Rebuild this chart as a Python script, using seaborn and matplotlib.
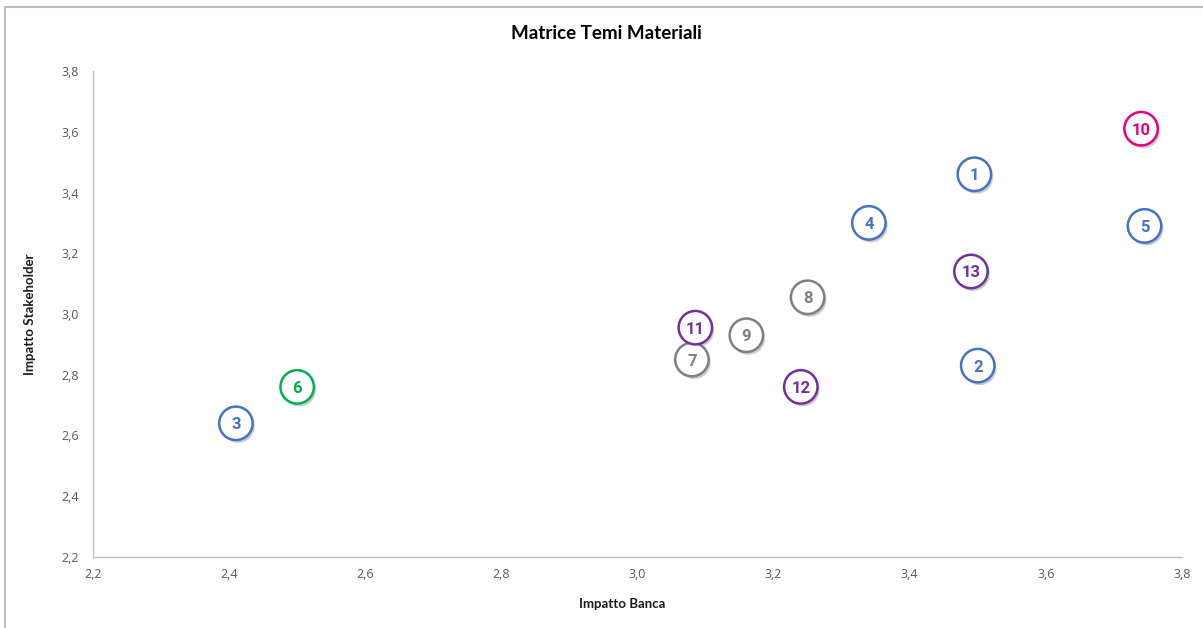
import matplotlib
matplotlib.use("Agg")
import matplotlib.pyplot as plt
import matplotlib.patheffects as pe
from matplotlib.lines import Line2D
from matplotlib.ticker import FuncFormatter, MultipleLocator
import pandas as pd
import seaborn as sns

# Material topics: id, bank impact (x), stakeholder impact (y), group
topic_ids = ["1", "2", "3", "4", "5", "6", "7", "8", "9", "10", "11", "12", "13"]
impatto_banca = [3.495, 3.50, 2.41, 3.34, 3.745, 2.50, 3.08, 3.25, 3.16, 3.74, 3.085, 3.24, 3.49]
impatto_stakeholder = [3.46, 2.83, 2.64, 3.30, 3.29, 2.76, 2.85, 3.055, 2.93, 3.61, 2.955, 2.76, 3.14]
gruppo = ["blue", "blue", "blue", "blue", "blue", "green", "gray", "gray", "gray",
          "magenta", "purple", "purple", "purple"]

palette = {
    "blue": "#4472C4",
    "green": "#00B050",
    "gray": "#7F7F7F",
    "magenta": "#E6007E",
    "purple": "#7030A0",
}

df = pd.DataFrame({
    "id": topic_ids,
    "Impatto Banca": impatto_banca,
    "Impatto Stakeholder": impatto_stakeholder,
    "gruppo": gruppo,
})

sns.set_theme(style="white")
plt.rcParams["font.family"] = ["Open Sans", "DejaVu Sans"]

fig = plt.figure(figsize=(12.03, 6.28), dpi=100)
ax = fig.add_axes([0.0773, 0.1131, 0.9052, 0.7738])

sns.scatterplot(
    data=df, x="Impatto Banca", y="Impatto Stakeholder",
    hue="gruppo", palette=palette, legend=False, ax=ax,
    s=580, marker="o", linewidth=1.8, zorder=3,
)
coll = ax.collections[0]
coll.set_facecolor("white")
coll.set_edgecolors([palette[g] for g in gruppo])
coll.set_path_effects([
    pe.SimplePatchShadow(offset=(1.5, -2.0), shadow_rgbFace="#9a9a9a", alpha=0.5),
    pe.Normal(),
])

for _, row in df.iterrows():
    ax.text(row["Impatto Banca"], row["Impatto Stakeholder"], row["id"],
            ha="center", va="center_baseline", fontsize=12, fontweight="bold",
            family=["Roboto", "DejaVu Sans"], color=palette[row["gruppo"]], zorder=4)

ax.set_xlim(2.2, 3.8)
ax.set_ylim(2.2, 3.8)
ax.xaxis.set_major_locator(MultipleLocator(0.2))
ax.yaxis.set_major_locator(MultipleLocator(0.2))
comma = FuncFormatter(lambda v, p: f"{v:.1f}".replace(".", ","))
ax.xaxis.set_major_formatter(comma)
ax.yaxis.set_major_formatter(comma)
ax.tick_params(axis="both", length=0, labelsize=9, labelcolor="#595959")
ax.tick_params(axis="x", pad=8)
ax.tick_params(axis="y", pad=10)

for side in ["top", "right"]:
    ax.spines[side].set_visible(False)
for side in ["left", "bottom"]:
    ax.spines[side].set_color("#BFBFBF")
    ax.spines[side].set_linewidth(1.0)

ax.set_xlabel("Impatto Banca", fontsize=9.5, fontweight="bold", color="#1a1a1a",
              family=["Lato", "DejaVu Sans"])
ax.set_ylabel("Impatto Stakeholder", fontsize=9.5, fontweight="bold", color="#1a1a1a",
              family=["Lato", "DejaVu Sans"])
ax.xaxis.set_label_coords(0.486, -0.097)
ax.yaxis.set_label_coords(-0.058, 0.5)
ax.xaxis.label.set_va("center")
ax.yaxis.label.set_va("center")

fig.text(0.504, 0.947, "Matrice Temi Materiali", ha="center", va="center",
         fontsize=13.5, fontweight="bold", color="#000000", family=["Lato", "DejaVu Sans"])

# Chart-area frame on the top and left edges
fig.add_artist(Line2D([0.0045, 1.0], [0.989, 0.989], transform=fig.transFigure,
                      color="#BFBFBF", linewidth=1.5))
fig.add_artist(Line2D([0.0045, 0.0045], [0.0, 0.989], transform=fig.transFigure,
                      color="#BFBFBF", linewidth=1.5))

fig.savefig("out.png", dpi=100, facecolor="white")
